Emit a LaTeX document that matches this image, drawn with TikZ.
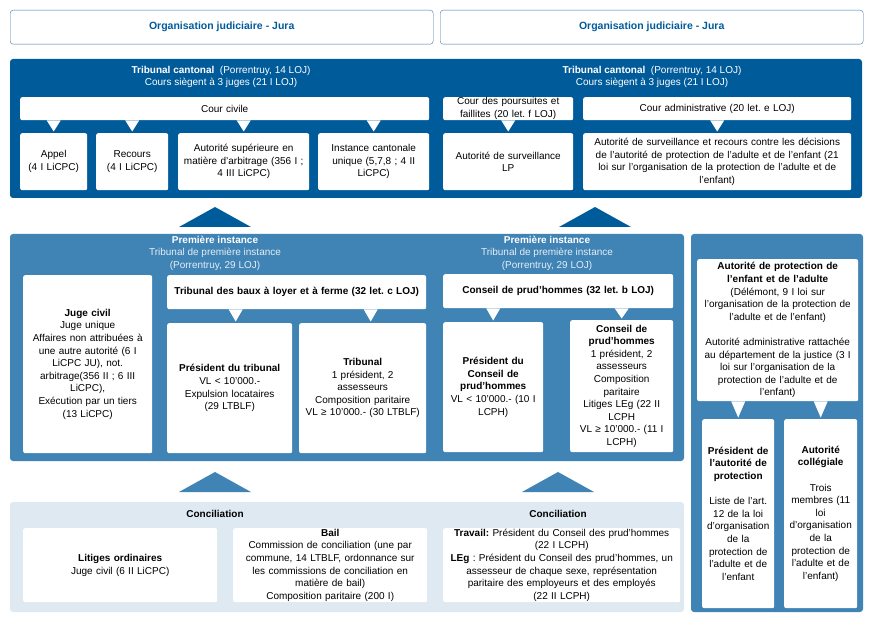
\documentclass[tikz,border=0pt]{standalone}
\usepackage{fontspec}
\setmainfont{Liberation Sans}
\usetikzlibrary{calc}
\frenchspacing

\definecolor{jurablue}{RGB}{0,91,154}
\definecolor{midblue}{RGB}{64,131,181}
\definecolor{paleblue}{RGB}{223,233,241}
\definecolor{hdrline}{RGB}{60,120,175}
\definecolor{palewhite}{RGB}{228,238,246}

% pointe blanche d'une bulle vers la case du dessous
\newcommand{\tail}[3][0]{\fill[white] ($(#3.north |- #2.south)+(#1-7,0)$) -- ($(#3.north |- #2.south)+(#1+7,0)$) -- ($(#3.north)+(#1,-1.5)$) -- cycle;}

\begin{document}
\begin{tikzpicture}[
    x=1pt, y=-1pt,
    every node/.style={font=\fontsize{10}{12.6}\selectfont},
    header/.style={draw=hdrline, fill=white, rounded corners=3pt, anchor=north west,
        minimum width=423pt, minimum height=34pt, text=jurablue,
        font=\bfseries\fontsize{10.5}{13}\selectfont},
    title/.style={text=white, align=center, inner sep=0pt},
    cell/.style 2 args={fill=white, rounded corners=2pt, inner sep=0pt, align=center,
        anchor=north west, minimum width=#1pt, text width=#1pt, minimum height=#2pt}
]
\useasboundingbox (0,0) rectangle (872,620);

% en-tetes
\node[header] (hdrl) at (10,10) {Organisation judiciaire - Jura};
\node[header] (hdrr) at (440,10) {Organisation judiciaire - Jura};

% fonds
\fill[jurablue, rounded corners=3pt] (10,59) rectangle (862,198);
\fill[midblue, rounded corners=3pt] (10,234) rectangle (684,461);
\fill[midblue, rounded corners=3pt] (691,234) rectangle (863,612);
\fill[paleblue, rounded corners=3pt] (10,502) rectangle (684,612);

% fleches vers le haut
\fill[jurablue] (179,227) -- (251,227) -- (215,207) -- cycle;
\fill[jurablue] (559,227) -- (631,227) -- (595,207) -- cycle;
\fill[midblue] (179,492) -- (251,492) -- (215,472) -- cycle;
\fill[midblue] (522,492) -- (594,492) -- (558,472) -- cycle;

% Tribunal cantonal
\node[title] (tcl) at (221,77) {\textbf{Tribunal cantonal}\ \ (Porrentruy, 14 LOJ)\\Cours siègent à 3 juges (21 I LOJ)};
\node[title] (tcr) at (652,77) {\textbf{Tribunal cantonal}\ \ (Porrentruy, 14 LOJ)\\Cours siègent à 3 juges (21 I LOJ)};

\node[cell={409}{23}] (civ) at (20,97) {Cour civile};
\node[cell={67}{57}] (appel) at (20,133) {Appel\\(4 I LiCPC)};
\node[cell={72}{57}] (recours) at (96,133) {Recours\\(4 I LiCPC)};
\node[cell={131}{57}] (arbitr) at (178,133) {Autorité supérieure en\\matière d'arbitrage (356 I ;\\4 III LiCPC)};
\node[cell={111}{57}] (unique) at (318,133) {Instance cantonale\\unique (5,7,8 ; 4 II\\LiCPC)};
\tail{civ}{appel}
\tail{civ}{recours}
\tail{civ}{arbitr}
\tail{civ}{unique}

\node[cell={130}{23}] (pours) at (443,97) {Cour des poursuites et\\faillites (20 let. f LOJ)};
\node[cell={268}{23}] (admin) at (583,97) {Cour administrative (20 let. e LOJ)};
\node[cell={130}{57}] (survlp) at (443,133) {Autorité de surveillance\\LP};
\node[cell={268}{57}] (survapea) at (583,133) {Autorité de surveillance et recours contre les décisions\\de l'autorité de protection de l'adulte et de l'enfant (21\\loi sur l'organisation de la protection de l'adulte et de\\l'enfant)};
\tail{pours}{survlp}
\tail{admin}{survapea}

% Premiere instance
\node[title] (pil) at (215,253) {\textbf{Première instance}\\\textcolor{palewhite}{Tribunal de première instance}\\\textcolor{palewhite}{(Porrentruy, 29 LOJ)}};
\node[title] (pir) at (547,253) {\textbf{Première instance}\\\textcolor{palewhite}{Tribunal de première instance}\\\textcolor{palewhite}{(Porrentruy, 29 LOJ)}};

\node[cell={129}{178}] (jugeciv) at (23,275) {\textbf{Juge civil}\\Juge unique\\Affaires non attribuées à\\une autre autorité (6 I\\LiCPC JU), not.\\arbitrage(356 II ; 6 III\\LiCPC),\\Exécution par un tiers\\(13 LiCPC)};
\node[cell={259}{34}] (baux) at (167,275) {\textbf{Tribunal des baux à loyer et à ferme (32 let. c LOJ)}};
\node[cell={125}{130}] (prestrib) at (167,323) {\textbf{Président du tribunal}\\VL < 10'000.-\\Expulsion locataires\\(29 LTBLF)};
\node[cell={127}{130}] (tribunal) at (299,323) {\textbf{Tribunal}\\1 président, 2\\assesseurs\\Composition paritaire\\VL ≥ 10'000.- (30 LTBLF)};
\tail[6]{baux}{prestrib}
\tail[8]{baux}{tribunal}

\node[cell={230}{34}] (cph) at (443,274) {\textbf{Conseil de prud'hommes (32 let. b LOJ)}};
\node[cell={100}{130}] (prescph) at (443,322) {\textbf{Président du}\\\textbf{Conseil de}\\\textbf{prud'hommes}\\VL < 10'000.- (10 I\\LCPH)};
\node[cell={103}{132}] (cphtrib) at (570,320) {\textbf{Conseil de}\\\textbf{prud'hommes}\\1 président, 2\\assesseurs\\Composition\\paritaire\\Litiges LEg (22 II\\LCPH\\VL ≥ 10'000.- (11 I\\LCPH)};
\tail{cph}{prescph}
\tail{cph}{cphtrib}

% Protection de l'adulte et de l'enfant
\node[cell={161}{142}] (apea) at (697,259) {\textbf{Autorité de protection de}\\\textbf{l'enfant et de l'adulte}\\(Délémont, 9 I loi sur\\l'organisation de la protection de\\l'adulte et de l'enfant)\\[12.6pt]Autorité administrative rattachée\\au département de la justice (3 I\\loi sur l'organisation de la\\protection de l'adulte et de\\l'enfant)};
\node[cell={72}{189}] (presapea) at (702,419) {\textbf{Président de}\\\textbf{l'autorité de}\\\textbf{protection}\\[12.6pt]Liste de l'art.\\12 de la loi\\d'organisation\\de la\\protection de\\l'adulte et de\\l'enfant};
\node[cell={73}{189}] (college) at (784,419) {\textbf{Autorité}\\\textbf{collégiale}\\[12.6pt]Trois\\membres (11\\loi\\d'organisation\\de la\\protection de\\l'adulte et de\\l'enfant)};
\tail{apea}{presapea}
\tail{apea}{college}

% Conciliation
\node[title, text=black] (concl) at (215,514) {\textbf{Conciliation}};
\node[title, text=black] (concr) at (558,514) {\textbf{Conciliation}};
\node[cell={194}{74}] (ordin) at (23,528) {\textbf{Litiges ordinaires}\\Juge civil (6 II LiCPC)};
\node[cell={194}{74}] (bail) at (233,528) {\textbf{Bail}\\Commission de conciliation (une par\\commune, 14 LTBLF, ordonnance sur\\les commissions de conciliation en\\matière de bail)\\Composition paritaire (200 I)};
\node[cell={237}{74}] (travail) at (443,528) {\textbf{Travail:} Président du Conseil des prud'hommes\\(22 I LCPH)\\\textbf{LEg} : Président du Conseil des prud'hommes, un\\assesseur de chaque sexe, représentation\\paritaire des employeurs et des employés\\(22 II LCPH)};

\end{tikzpicture}
\end{document}
